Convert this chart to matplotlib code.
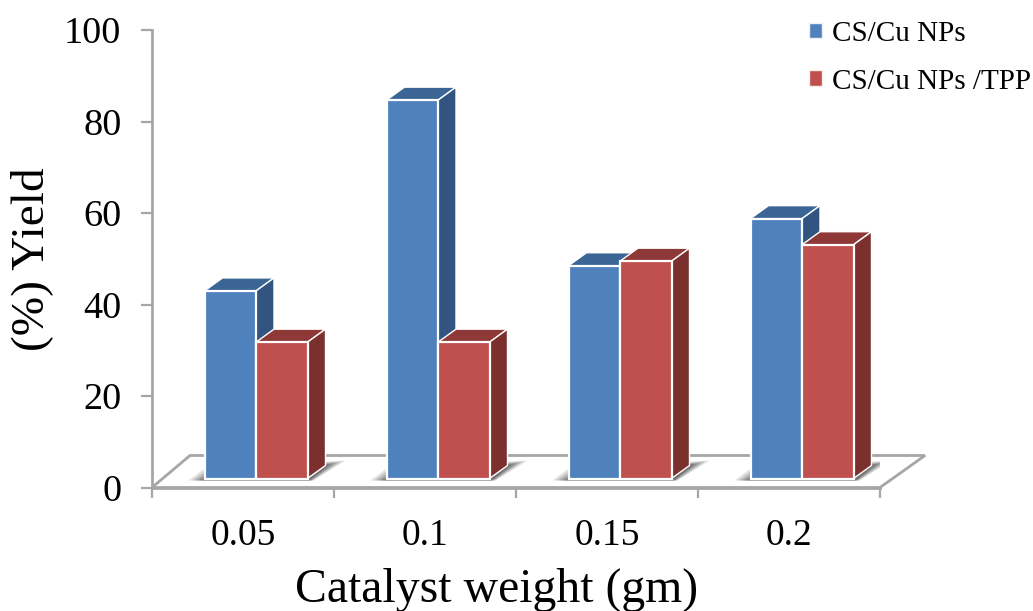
import matplotlib
matplotlib.use("Agg")
import matplotlib.pyplot as plt
from matplotlib.patches import Polygon, Patch
from matplotlib.ticker import NullFormatter

categories = ["0.05", "0.1", "0.15", "0.2"]
cs_cu = [41, 82.7, 46.5, 56.8]
cs_cu_tpp = [29.8, 29.8, 47.5, 51.1]
y_ticks = [0, 20, 40, 60, 80, 100]
series_names = ["CS/Cu NPs", "CS/Cu NPs /TPP"]

W, H = 1033, 611
L, R, T, B = 152, 880, 30, 487.5
BLUE = ("#4F81BD", "#3B6594", "#325480")
RED = ("#C0504D", "#8E3937", "#7C302E")
GRAY = "#A6A6A6"

plt.rcParams["font.family"] = ["Liberation Serif", "DejaVu Serif"]
fig = plt.figure(figsize=(W / 100, H / 100), dpi=100)
ax = fig.add_axes([L / W, 1 - B / H, (R - L) / W, (B - T) / H])
ax.set_xlim(-0.5, 3.5)
ax.set_ylim(0, 100)

sx = (R - L) / 4      # pixels per category
sy = (B - T) / 100    # pixels per y unit
dx, dy = 18 / sx, 13 / sy          # bar depth
width = 51.5 / sx
shift = 13 / sx
base = 9 / sy

# floor
fdx, fdy = 38 / sx, 32 / sy
ax.add_patch(Polygon([(-0.5, 0), (-0.5 + fdx, fdy), (3.5 + 45 / sx, fdy), (3.5, 0)],
                     closed=True, fc="white", ec=GRAY, lw=2, clip_on=False, zorder=1))


def shadow(x0, x1):
    for g, a in [(1.0, 0.14), (0.8, 0.16), (0.6, 0.20), (0.4, 0.24), (0.2, 0.28)]:
        ax.add_patch(Polygon([(x0 - g * 16 / sx, base - 2 / sy),
                              (x0 + (1 - g) * 10 / sx, base + (2 + 8 * g) / sy),
                              (x1 + dx + g * 20 / sx, base + (13 + 5 * g) / sy),
                              (x1 + (1 + g * 5) / sx, base - 2 / sy)],
                             closed=True, fc="#303030", ec="none", alpha=a, zorder=2))


def box(x, value, colors, z):
    front, top, side = colors
    x0, x1 = x, x + width
    y1 = base + value
    ax.add_patch(Polygon([(x0, y1), (x0 + dx, y1 + dy), (x1 + dx, y1 + dy), (x1, y1)],
                         closed=True, fc=top, ec="white", lw=1.0, zorder=z))
    ax.add_patch(Polygon([(x1, base), (x1 + dx, base + dy), (x1 + dx, y1 + dy), (x1, y1)],
                         closed=True, fc=side, ec="white", lw=1.0, zorder=z))
    ax.bar(x0, value, width=width, bottom=base, align="edge", color=front,
           edgecolor="white", linewidth=1.6, zorder=z + 0.1)


for i in range(len(categories)):
    x_left = i - width + shift
    shadow(x_left, x_left + 2 * width)
    box(x_left, cs_cu[i], BLUE, 3)
    box(x_left + width, cs_cu_tpp[i], RED, 4)

for s in ("top", "right"):
    ax.spines[s].set_visible(False)
for s in ("left", "bottom"):
    ax.spines[s].set_color(GRAY)
    ax.spines[s].set_linewidth(2)
    ax.spines[s].set_zorder(5)

ax.set_yticks(y_ticks)
ax.tick_params(axis="y", length=8, width=1.6, color=GRAY, labelsize=27.5, pad=14)
ax.set_xticks([-0.5, 0.5, 1.5, 2.5, 3.5])
ax.xaxis.set_major_formatter(NullFormatter())
ax.set_xticks(range(len(categories)), categories, minor=True)
ax.tick_params(axis="x", which="major", length=7, width=1.6, color=GRAY)
ax.tick_params(axis="x", which="minor", length=0, labelsize=27, pad=22)

fig.text(497 / W, 1 - 590 / H, "Catalyst weight (gm)", fontsize=34.4, ha="center", va="center")
fig.text(32 / W, 1 - 259 / H, "(%) Yield", fontsize=34, ha="center", va="center", rotation=90)

handles = [Patch(fc=BLUE[0], ec="#EEF2F8", lw=1), Patch(fc=RED[0], ec="#F8EEEE", lw=1)]
fig.legend(handles, series_names, loc="upper left", bbox_to_anchor=(809 / W, 1 - 21 / H),
           frameon=False, fontsize=21, handlelength=0.44, handleheight=0.44,
           handletextpad=0.35, labelspacing=0.74, borderpad=0, borderaxespad=0)

fig.savefig("out.png", dpi=100)
